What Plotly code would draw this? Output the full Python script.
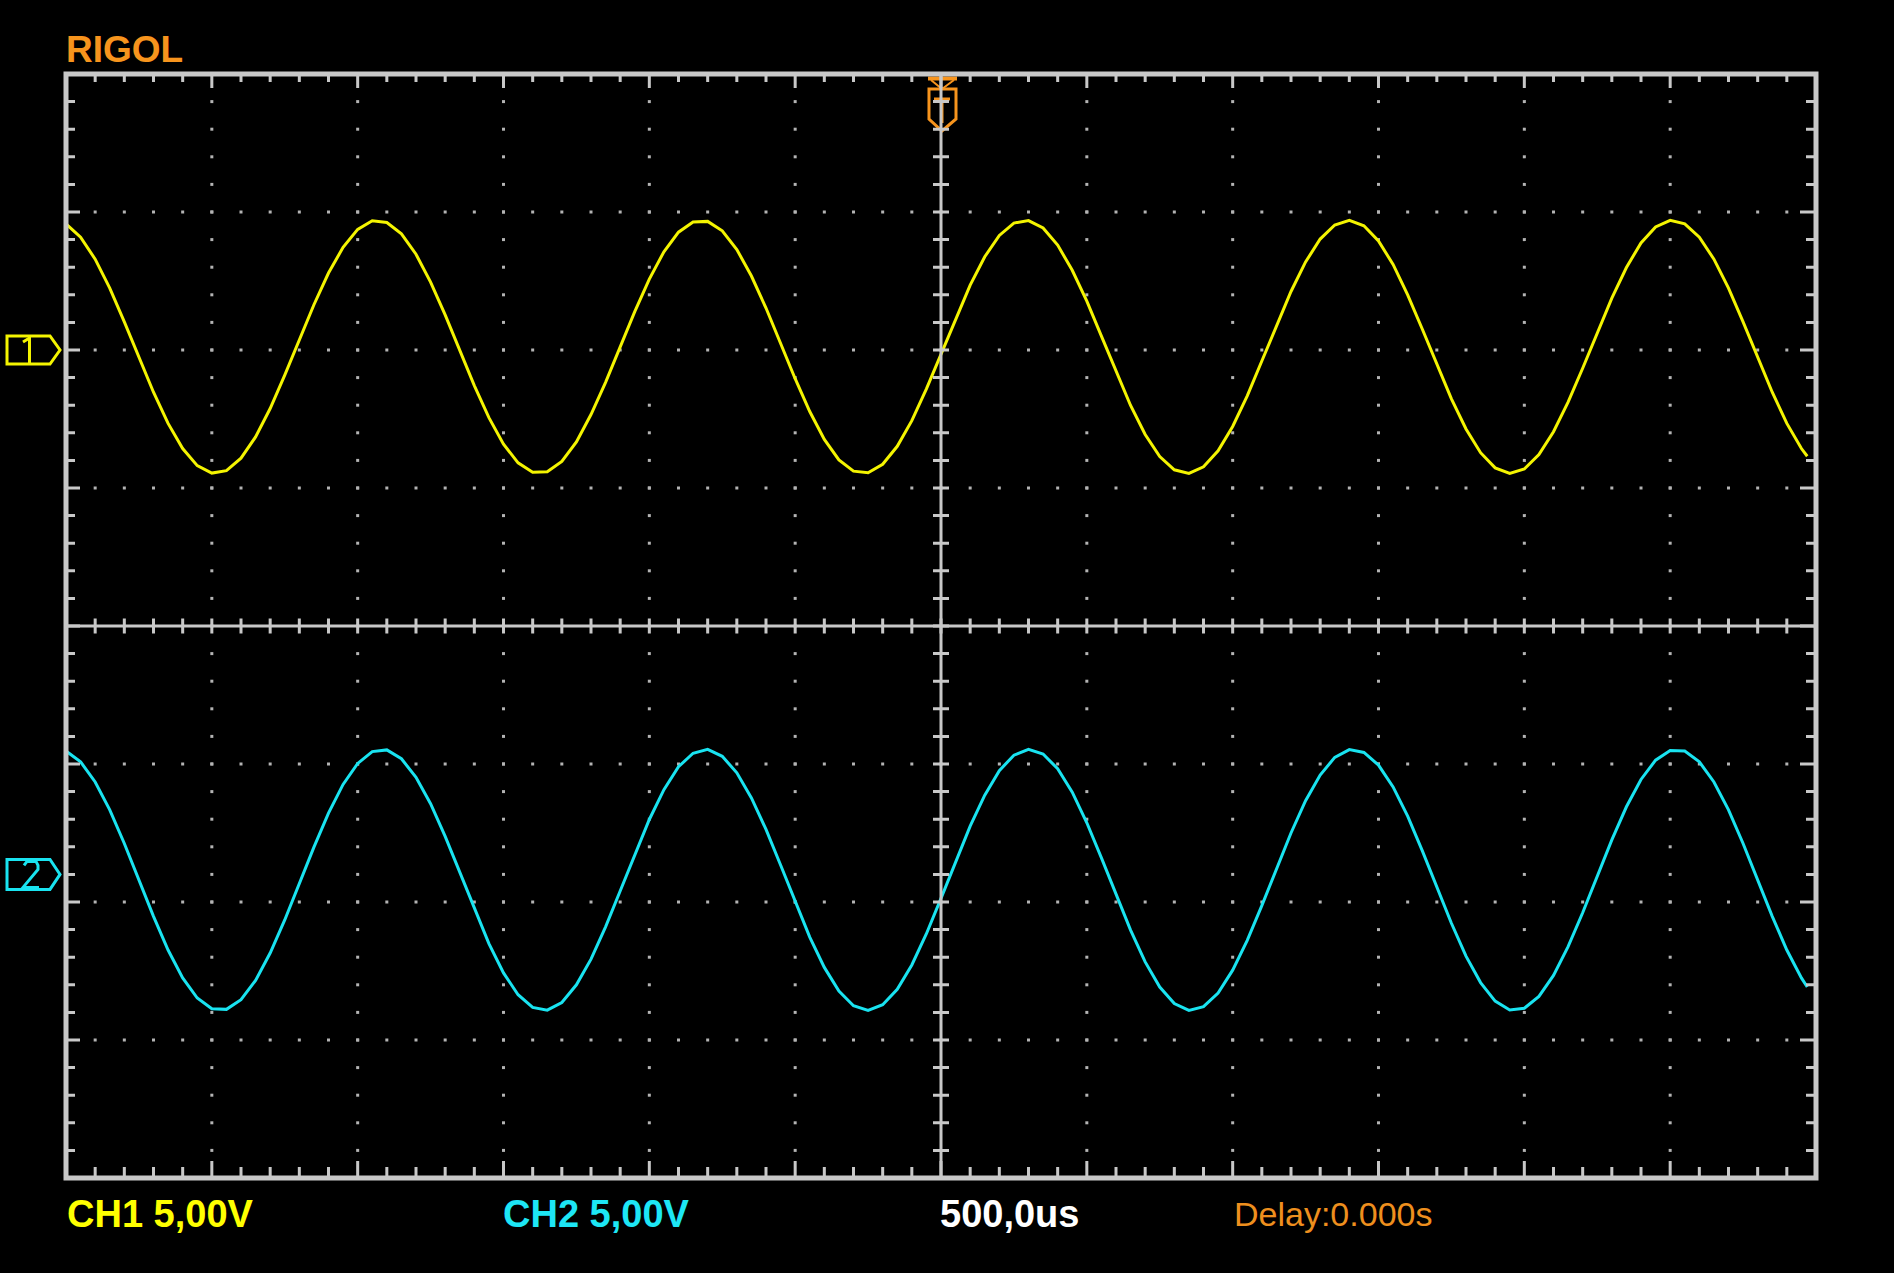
import plotly.graph_objects as go

time_us = [-3000, -2950, -2900, -2850, -2800, -2750, -2700, -2650, -2600, -2550,
           -2500, -2450, -2400, -2350, -2300, -2250, -2200, -2150, -2100, -2050,
           -2000, -1950, -1900, -1850, -1800, -1750, -1700, -1650, -1600, -1550,
           -1500, -1450, -1400, -1350, -1300, -1250, -1200, -1150, -1100, -1050,
           -1000, -950, -900, -850, -800, -750, -700, -650, -600, -550,
           -500, -450, -400, -350, -300, -250, -200, -150, -100, -50,
           0, 50, 100, 150, 200, 250, 300, 350, 400, 450,
           500, 550, 600, 650, 700, 750, 800, 850, 900, 950,
           1000, 1050, 1100, 1150, 1200, 1250, 1300, 1350, 1400, 1450,
           1500, 1550, 1600, 1650, 1700, 1750, 1800, 1850, 1900, 1950,
           2000, 2050, 2100, 2150, 2200, 2250, 2300, 2350, 2400, 2450,
           2500, 2550, 2600, 2650, 2700, 2750, 2800, 2850, 2900, 2950,
           2970]

ch1_volts = [4.57, 4.09, 3.29, 2.24, 1.02, -0.27, -1.53, -2.66, -3.57, -4.19,
             -4.46, -4.37, -3.92, -3.15, -2.12, -0.91, 0.37, 1.64, 2.79, 3.72,
             4.37, 4.68, 4.62, 4.21, 3.47, 2.46, 1.27, -0.01, -1.29, -2.45,
             -3.41, -4.09, -4.43, -4.41, -4.04, -3.33, -2.34, -1.17, 0.11, 1.39,
             2.57, 3.56, 4.27, 4.64, 4.66, 4.32, 3.64, 2.68, 1.52, 0.25,
             -1.04, -2.23, -3.24, -3.98, -4.39, -4.45, -4.14, -3.49, -2.56, -1.41,
             -0.15, 1.14, 2.35, 3.38, 4.15, 4.60, 4.69, 4.42, 3.80, 2.89,
             1.77, 0.50, -0.79, -2.01, -3.06, -3.86, -4.34, -4.47, -4.23, -3.65,
             -2.77, -1.66, -0.40, 0.89, 2.12, 3.19, 4.02, 4.53, 4.70, 4.50,
             3.95, 3.10, 2.00, 0.76, -0.53, -1.77, -2.86, -3.72, -4.27, -4.47,
             -4.31, -3.79, -2.96, -1.89, -0.66, 0.63, 1.88, 2.99, 3.88, 4.46,
             4.70, 4.57, 4.09, 3.29, 2.24, 1.02, -0.27, -1.53, -2.66, -3.57,
             -3.85]

ch2_volts = [4.47, 4.08, 3.35, 2.34, 1.12, -0.20, -1.52, -2.74, -3.75, -4.48,
             -4.87, -4.89, -4.54, -3.84, -2.85, -1.65, -0.33, 0.99, 2.22, 3.26,
             4.02, 4.45, 4.51, 4.19, 3.52, 2.56, 1.38, 0.07, -1.26, -2.51,
             -3.57, -4.36, -4.82, -4.92, -4.64, -4.00, -3.07, -1.90, -0.60, 0.73,
             1.99, 3.07, 3.90, 4.39, 4.53, 4.28, 3.68, 2.77, 1.63, 0.34,
             -1.00, -2.27, -3.37, -4.23, -4.76, -4.93, -4.72, -4.16, -3.28, -2.15,
             -0.87, 0.47, 1.75, 2.87, 3.76, 4.32, 4.53, 4.36, 3.83, 2.98,
             1.87, 0.60, -0.73, -2.02, -3.17, -4.08, -4.68, -4.93, -4.79, -4.30,
             -3.47, -2.39, -1.13, 0.20, 1.50, 2.67, 3.60, 4.24, 4.52, 4.42,
             3.96, 3.17, 2.11, 0.86, -0.47, -1.77, -2.96, -3.92, -4.59, -4.91,
             -4.85, -4.42, -3.66, -2.62, -1.39, -0.07, 1.25, 2.45, 3.44, 4.14,
             4.49, 4.47, 4.08, 3.35, 2.34, 1.12, -0.20, -1.52, -2.74, -3.75,
             -4.08]

ch1_volts_per_div = 5.0
ch2_volts_per_div = 5.0
ch1_offset_div = 2.0      # ground marker position (divisions above centre)
ch2_offset_div = -1.8
time_per_div_us = 500.0

label_brand = "RIGOL"
label_ch1 = "CH1 5,00V"
label_ch2 = "CH2 5,00V"
label_time = "500,0us"
label_delay = "Delay:0.000s"

# ---------------- layout geometry ----------------
W, H = 1894, 1273
L, R, T, B = 66, 1816, 74, 1178
XC, YC = (L + R) / 2, (T + B) / 2
NXDIV, NYDIV = 12, 8

GRAY = "#C8C8C8"
DOT = "#B4B4B4"
YEL = "#F4F400"
CYAN = "#19E3F0"
ORANGE = "#F7941D"


def px(X):
    return (X - L) / (R - L)


def py(Y):
    return (B - Y) / (B - T)


def seg_path(segs):
    return " ".join(f"M{px(a):.5f},{py(b):.5f}L{px(c):.5f},{py(d):.5f}" for a, b, c, d in segs)


def poly_path(pts, close=True):
    s = "M" + "L".join(f"{px(a):.5f},{py(b):.5f}" for a, b in pts)
    return s + (" Z" if close else "")


fig = go.Figure()

# dotted graticule (minor dots along each major line)
dx, dy = [], []
half_t = NXDIV / 2 * time_per_div_us
for j in range(1, NXDIV):
    if j == NXDIV // 2:
        continue
    xv = -half_t + j * time_per_div_us
    for k in range(1, NYDIV * 5):
        dx.append(xv)
        dy.append(-NYDIV / 2 + k * 0.2)
for j in range(1, NYDIV):
    if j == NYDIV // 2:
        continue
    yv = -NYDIV / 2 + j
    for k in range(1, NXDIV * 5):
        dx.append(-half_t + k * time_per_div_us / 5)
        dy.append(yv)
fig.add_trace(go.Scatter(x=dx, y=dy, mode="markers",
                         marker=dict(symbol="square", size=3, color=DOT, line=dict(width=0)),
                         hoverinfo="skip", showlegend=False))

# waveforms
y1 = [v / ch1_volts_per_div + ch1_offset_div for v in ch1_volts]
y2 = [v / ch2_volts_per_div + ch2_offset_div for v in ch2_volts]
fig.add_trace(go.Scatter(x=time_us, y=y1, mode="lines", line=dict(color=YEL, width=3),
                         name="CH1", showlegend=False))
fig.add_trace(go.Scatter(x=time_us, y=y2, mode="lines", line=dict(color=CYAN, width=3),
                         name="CH2", showlegend=False))

shapes = []

# trigger marker (top centre)
shapes.append(dict(type="rect", xref="paper", yref="paper", x0=px(928), x1=px(957),
                   y0=py(80.5), y1=py(76.5), fillcolor=ORANGE, line=dict(width=0), layer="above"))
shapes.append(dict(type="path", xref="paper", yref="paper",
                   path=seg_path([(931, 80, 942, 89), (954, 80, 942, 89)]),
                   line=dict(color=ORANGE, width=2), layer="above"))
shapes.append(dict(type="path", xref="paper", yref="paper",
                   path=poly_path([(929, 89), (956, 89), (956, 119), (942, 131), (929, 119)]),
                   line=dict(color=ORANGE, width=3), layer="above"))
shapes.append(dict(type="path", xref="paper", yref="paper",
                   path=seg_path([(934, 99, 950, 99), (942, 99, 942, 123)]),
                   line=dict(color=ORANGE, width=3), layer="above"))

# centre cross
shapes.append(dict(type="line", xref="paper", yref="paper", x0=0, x1=1, y0=py(YC), y1=py(YC),
                   line=dict(color=GRAY, width=3), layer="above"))
shapes.append(dict(type="line", xref="paper", yref="paper", x0=px(XC), x1=px(XC), y0=0, y1=1,
                   line=dict(color=GRAY, width=3), layer="above"))

# ticks
segs = []
nxm, nym = NXDIV * 5, NYDIV * 5
for i in range(1, nxm):
    x = L + i * (R - L) / nxm
    major = (i % 5 == 0)
    segs.append((x, T, x, T + (14 if major else 8)))
    segs.append((x, B, x, B - (17 if major else 11)))
    segs.append((x, YC - 7.5, x, YC + 7.5))
for i in range(1, nym):
    y = T + i * (B - T) / nym
    major = (i % 5 == 0)
    segs.append((L, y, L + (14 if major else 9), y))
    segs.append((R, y, R - (16 if major else 10), y))
    segs.append((XC - 8, y, XC + 8, y))
shapes.append(dict(type="path", xref="paper", yref="paper", path=seg_path(segs),
                   line=dict(color=GRAY, width=3), layer="above"))

# border
shapes.append(dict(type="rect", xref="paper", yref="paper", x0=0, x1=1, y0=0, y1=1,
                   line=dict(color=GRAY, width=5), layer="above"))

# channel markers
y1m = T + (NYDIV / 2 - ch1_offset_div) * (B - T) / NYDIV
y2m = T + (NYDIV / 2 - ch2_offset_div) * (B - T) / NYDIV
shapes.append(dict(type="path", xref="paper", yref="paper",
                   path=poly_path([(7, y1m - 14), (50, y1m - 14), (60, y1m), (50, y1m + 14), (7, y1m + 14)]),
                   line=dict(color=YEL, width=3), layer="above"))
shapes.append(dict(type="path", xref="paper", yref="paper",
                   path=seg_path([(29.5, y1m - 14, 29.5, y1m + 14), (23, y1m - 8, 29.5, y1m - 12)]),
                   line=dict(color=YEL, width=3), layer="above"))
shapes.append(dict(type="path", xref="paper", yref="paper",
                   path=poly_path([(7, y2m - 15), (50, y2m - 15), (60, y2m), (50, y2m + 15), (7, y2m + 15)]),
                   line=dict(color=CYAN, width=3), layer="above"))
shapes.append(dict(type="path", xref="paper", yref="paper",
                   path=poly_path([(24, y2m - 9), (27, y2m - 13), (36, y2m - 13), (38, y2m - 9),
                                   (38, y2m - 5), (23, y2m + 13), (39, y2m + 13)], close=False),
                   line=dict(color=CYAN, width=3), layer="above"))

annotations = []


def add_text(text, X, Ymid, color, size, bold=True):
    annotations.append(dict(text=text, xref="paper", yref="paper", x=px(X), y=py(Ymid),
                            xanchor="left", yanchor="middle", showarrow=False,
                            font=dict(family="Liberation Sans", size=size, color=color,
                                      weight="bold" if bold else "normal")))


add_text(label_brand, 64, 50, ORANGE, 37)
add_text(label_ch1, 65, 1214, "#FFFF00", 38)
add_text(label_ch2, 501, 1214, "#1DE6F5", 38)
add_text(label_time, 938, 1214, "#FFFFFF", 38)
add_text(label_delay, 1232, 1214, "#EE8F1E", 34, bold=False)

fig.update_layout(
    width=W, height=H,
    margin=dict(l=L, r=W - R, t=T, b=H - B, pad=0),
    paper_bgcolor="black", plot_bgcolor="black",
    xaxis=dict(range=[-half_t, half_t], visible=False, fixedrange=True),
    yaxis=dict(range=[-NYDIV / 2, NYDIV / 2], visible=False, fixedrange=True),
    shapes=shapes, annotations=annotations,
    showlegend=False,
)

fig.write_html("out.html", config={"displayModeBar": False})
